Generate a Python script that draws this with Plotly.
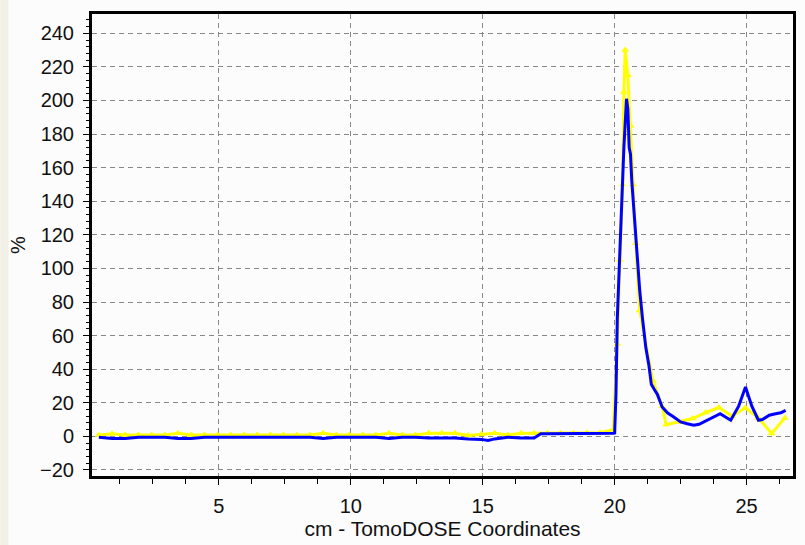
import plotly.graph_objects as go

# ---- data ----
yellow_x = [0.45, 0.95, 1.45, 1.95, 2.45, 2.95, 3.45, 3.95, 4.45, 4.95, 5.45, 5.95,
            6.45, 6.95, 7.45, 7.95, 8.45, 8.95, 9.45, 9.95, 10.45, 10.95, 11.45, 11.95,
            12.45, 12.95, 13.45, 13.95, 14.45, 14.95, 15.45, 15.95, 16.45, 16.95, 17.45,
            17.95, 18.45, 18.95, 19.45, 19.95, 20.1, 20.2, 20.3, 20.35, 20.4, 20.5, 20.6,
            20.7, 20.8, 20.95, 21.45, 21.8, 21.95, 22.45, 22.95, 23.45, 23.95, 24.45,
            24.95, 25.45, 25.95, 26.45]
yellow_y = [0.8, 1.6, 0.8, 0.8, 0.8, 0.8, 1.8, 0.8, 0.8, 0.8, 0.8, 0.8,
            0.8, 0.8, 0.8, 0.8, 0.8, 1.8, 0.8, 0.8, 0.8, 0.8, 1.8, 0.8,
            0.8, 1.8, 1.8, 1.8, 0.5, 1.2, 1.8, 0.8, 1.8, 1.8, 1.8,
            1.8, 1.8, 2.2, 2.2, 4.0, 55, 105, 150, 205, 230, 215, 185,
            150, 115, 75, 33, 18, 7, 8.6, 10.6,
            14.2, 17.2, 12.0, 17.0, 11.0, 1.7, 11.0]

blue_x = [0.45, 0.95, 1.45, 1.95, 2.45, 2.95, 3.45, 3.95, 4.45, 4.95, 5.45, 5.95,
          6.45, 6.95, 7.45, 7.95, 8.45, 8.95, 9.45, 9.95, 10.45, 10.95, 11.45, 11.95,
          12.45, 12.95, 13.45, 13.95, 14.45, 14.95, 15.2, 15.45, 15.95, 16.45, 16.95,
          17.2, 17.45, 17.95, 18.45, 18.95, 19.45, 19.95, 20.0, 20.05, 20.1, 20.17,
          20.25, 20.35, 20.45, 20.5, 20.55, 20.6, 20.65, 20.75, 20.85, 20.95, 21.05,
          21.18, 21.3, 21.39, 21.5, 21.62, 21.8, 22.0, 22.24, 22.5, 22.75, 23.0, 23.2,
          23.5, 23.75, 24.0, 24.2, 24.4, 24.7, 24.96, 25.2, 25.45, 25.6, 25.86, 26.1,
          26.3, 26.48]
blue_y = [-0.5, -1.2, -1.2, -0.5, -0.5, -0.5, -1.2, -1.2, -0.5, -0.5, -0.5, -0.5,
          -0.5, -0.5, -0.5, -0.5, -0.5, -1.2, -0.5, -0.5, -0.5, -0.5, -1.2, -0.5,
          -0.5, -1.0, -1.0, -1.0, -1.5, -1.8, -2.5, -1.5, -0.5, -1.0, -1.0,
          1.5, 1.5, 1.5, 1.5, 1.5, 1.7, 1.8, 2.0, 25, 70, 102,
          136, 172, 201, 195, 172, 168, 152, 130, 107, 87, 71,
          53, 42, 31, 28, 25, 17.5, 14, 11.5, 8.6, 7.5, 6.6, 7.2,
          9.5, 11.5, 13.5, 11.5, 9.6, 18.0, 29.4, 18.0, 9.6, 10.0, 12.6, 13.5,
          14.0, 15.5]

x_title = "cm - TomoDOSE Coordinates"
y_title = "%"
x_ticks = [5, 10, 15, 20, 25]
y_ticks = [-20, 0, 20, 40, 60, 80, 100, 120, 140, 160, 180, 200, 220, 240]

FONT = "Liberation Sans, Arial, sans-serif"

fig = go.Figure()
fig.add_trace(go.Scatter(
    x=yellow_x, y=yellow_y, mode="lines+markers",
    line=dict(color="#FFFF00", width=3),
    marker=dict(symbol="triangle-up", size=7, color="#FFFF00"),
    showlegend=False, hoverinfo="skip"))
fig.add_trace(go.Scatter(
    x=blue_x, y=blue_y, mode="lines",
    line=dict(color="#0000FF", width=3),
    showlegend=False, hoverinfo="skip"))

axis_common = dict(
    showline=True, linecolor="black", linewidth=3, mirror=True,
    showgrid=True, gridcolor="#888888", gridwidth=1, griddash="5px,4px",
    zeroline=False, ticks="outside", tickcolor="black", ticklen=6, tickwidth=1,
    tickfont=dict(family=FONT, size=20, color="#111111"),
)

fig.update_xaxes(
    **axis_common,
    range=[0.19, 26.76], tickvals=x_ticks, ticklabelstandoff=4,
    minor=dict(dtick=1.25, tick0=0, ticks="outside", ticklen=5, tickcolor="black",
               showgrid=False),
    title=dict(text=x_title, font=dict(family=FONT, size=21, color="#111111"),
               standoff=2),
)
fig.update_yaxes(
    **axis_common,
    range=[-23.6, 251.5], tickvals=y_ticks, ticklabelstandoff=5,
    minor=dict(dtick=4, tick0=0, ticks="outside", ticklen=3, tickcolor="black",
               showgrid=False),
    title=dict(text=y_title, font=dict(family=FONT, size=20, color="#111111"),
               standoff=10),
)

fig.update_layout(
    width=805, height=545,
    margin=dict(l=92, r=9, t=14, b=69),
    paper_bgcolor="#FCFCFC", plot_bgcolor="#FCFCFC",
    shapes=[dict(type="rect", xref="paper", yref="paper",
                 x0=-0.131, x1=-0.119, y0=-0.2, y1=1.05,
                 fillcolor="#F2F0E6", line=dict(width=0), layer="below")],
)

fig.write_html("out.html")
